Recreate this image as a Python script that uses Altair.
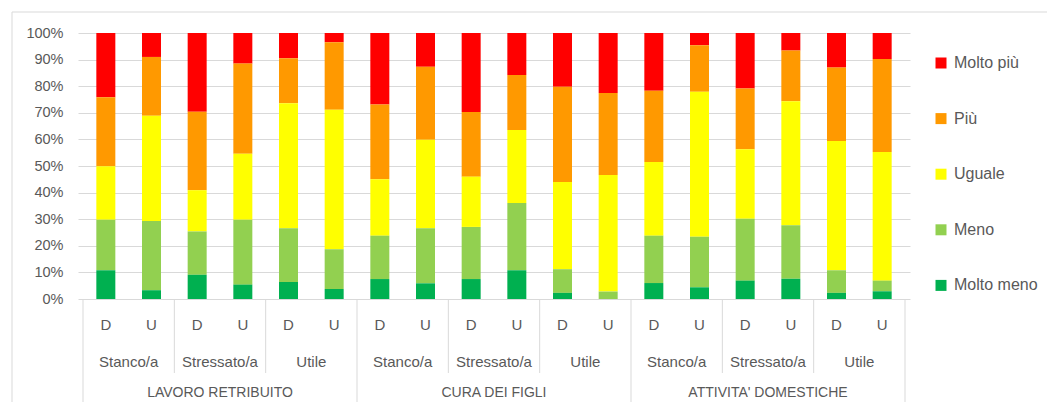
import altair as alt
import pandas as pd

groups = ["LAVORO RETRIBUITO", "CURA DEI FIGLI", "ATTIVITA' DOMESTICHE"]
subgroups = ["Stanco/a", "Stressato/a", "Utile"]
persons = ["D", "U"]
categories = ["Molto più", "Più", "Uguale", "Meno", "Molto meno"]
colors = ["#FF0000", "#FF9900", "#FFFF00", "#92D050", "#00B050"]

molto_meno = [10.8, 3.3, 9.1, 5.4, 6.4, 3.8, 7.5, 5.9, 7.5, 10.8, 2.3, 0.0, 6.0, 4.4, 6.9, 7.6, 2.3, 2.9]
meno = [19.0, 26.0, 16.3, 24.4, 20.2, 14.9, 16.3, 20.7, 19.6, 25.3, 8.9, 2.8, 17.8, 19.0, 23.3, 20.1, 8.5, 4.0]
uguale = [20.1, 39.6, 15.5, 24.8, 47.0, 52.4, 21.2, 33.3, 18.9, 27.4, 32.8, 43.8, 27.7, 54.5, 26.1, 46.6, 48.6, 48.4]
piu = [25.9, 22.1, 29.5, 33.9, 16.9, 25.4, 28.1, 27.4, 24.3, 20.7, 35.8, 30.8, 26.8, 17.5, 22.8, 19.1, 27.6, 34.9]
molto_piu = [24.2, 9.0, 29.6, 11.5, 9.5, 3.5, 26.9, 12.7, 29.7, 15.8, 20.2, 22.6, 21.7, 4.6, 20.9, 6.6, 13.0, 9.8]

series = {"Molto più": molto_piu, "Più": piu, "Uguale": uguale, "Meno": meno, "Molto meno": molto_meno}
stack_rank = {"Molto meno": 0, "Meno": 1, "Uguale": 2, "Più": 3, "Molto più": 4}

rows = []
pos = 0
bar_labels = []
for g in groups:
    for s in subgroups:
        for p in persons:
            for c in categories:
                rows.append({"pos": pos, "cat": c, "val": series[c][pos], "ord": stack_rank[c]})
            bar_labels.append({"pos": pos, "label": p})
            pos += 1
df = pd.DataFrame(rows)
df_bar_lab = pd.DataFrame(bar_labels)

n_bars = len(bar_labels)
df_sub_lab = pd.DataFrame([{"pos": 2 * i + 0.5, "label": subgroups[i % 3]} for i in range(9)])
df_grp_lab = pd.DataFrame([{"pos": 6 * i + 2.5, "label": groups[i]} for i in range(3)])
df_sub_sep = pd.DataFrame([{"pos": 2 * i - 0.5} for i in range(10) if i % 3 != 0])
df_grp_sep = pd.DataFrame([{"pos": 6 * i - 0.5} for i in range(4)])

W, H = 832, 266
FONT = "Liberation Sans"
TXT = "#595959"
GRID = "#d9d9d9"

xscale = alt.Scale(domain=[-0.5, n_bars - 0.5], nice=False, zero=False)
x = alt.X("pos:Q", scale=xscale, axis=None)

bars = alt.Chart(df).mark_bar(size=19).encode(
    x=x,
    y=alt.Y("val:Q", stack="zero",
            scale=alt.Scale(domain=[0, 100], nice=False),
            axis=alt.Axis(values=list(range(0, 101, 10)), labelExpr="datum.value + '%'",
                          title=None, ticks=False, domain=False, grid=True,
                          gridColor=GRID, labelFont=FONT, labelFontSize=14.5,
                          labelColor=TXT, labelPadding=15)),
    color=alt.Color("cat:N", scale=alt.Scale(domain=categories, range=colors),
                    legend=alt.Legend(title=None, orient="none", legendX=855, legendY=22,
                                      symbolType="square", symbolSize=121, symbolStrokeWidth=0,
                                      labelFont=FONT, labelFontSize=16, labelColor=TXT,
                                      rowPadding=39.6, labelOffset=5, padding=0)),
    order=alt.Order("ord:Q", sort="ascending"),
)

lab_common = dict(font=FONT, fontSize=15, color=TXT, align="center", baseline="middle")
bar_lab = alt.Chart(df_bar_lab).mark_text(**lab_common).encode(
    x=x, y=alt.value(292), text="label:N")
sub_lab = alt.Chart(df_sub_lab).mark_text(**lab_common).encode(
    x=x, y=alt.value(329), text="label:N")
grp_lab = alt.Chart(df_grp_lab).mark_text(font=FONT, fontSize=14, color=TXT, align="center",
                                          baseline="middle").encode(
    x=x, y=alt.value(360), text="label:N")

sub_sep = alt.Chart(df_sub_sep).mark_rule(color=GRID, strokeWidth=1).encode(
    x=x, y=alt.value(H), y2=alt.value(340))
grp_sep = alt.Chart(df_grp_sep).mark_rule(color=GRID, strokeWidth=1).encode(
    x=x, y=alt.value(H), y2=alt.value(400))

one = pd.DataFrame({"k": [0]})
border_top = alt.Chart(one).mark_rule(color=GRID, strokeWidth=1).encode(
    x=alt.value(-66), x2=alt.value(1000), y=alt.value(-21))
border_left = alt.Chart(one).mark_rule(color=GRID, strokeWidth=1).encode(
    x=alt.value(-66), y=alt.value(-21), y2=alt.value(400))

chart = alt.layer(border_top, border_left, sub_sep, grp_sep, bars, bar_lab, sub_lab, grp_lab).properties(
    width=W, height=H,
    autosize=alt.AutoSizeParams(type="none"),
    padding={"left": 70, "top": 25, "right": 137, "bottom": 103},
    background="white",
).configure_view(stroke=None)

chart.save("out.html", embed_options={"renderer": "svg", "actions": False})
